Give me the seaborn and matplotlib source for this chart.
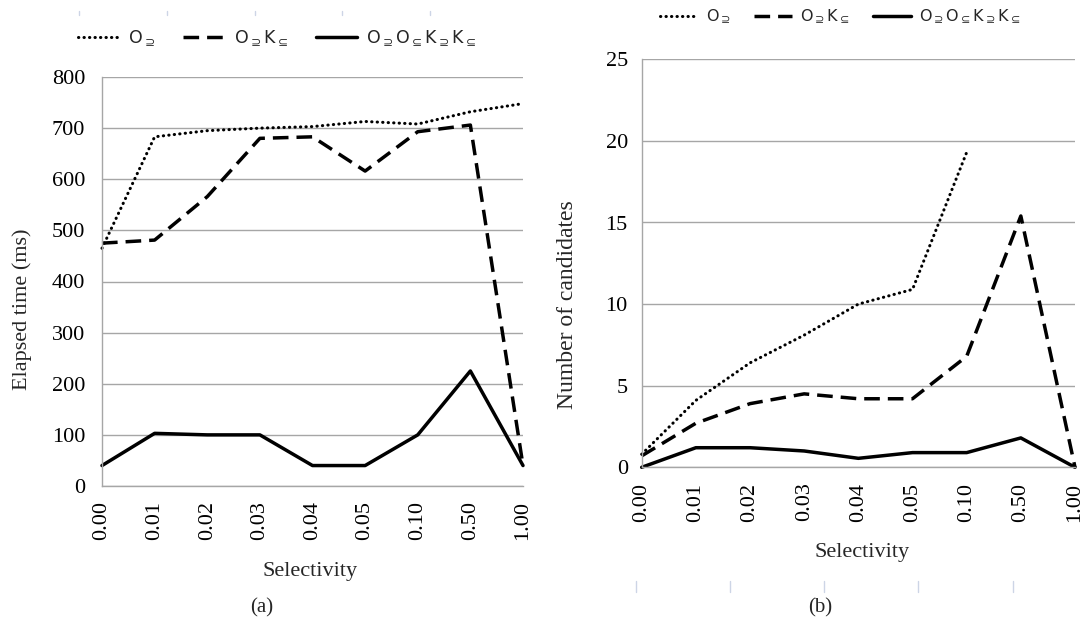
import numpy as np
import matplotlib
matplotlib.use("Agg")
import matplotlib.pyplot as plt
import seaborn as sns
from matplotlib.lines import Line2D

# data
selectivity = ["0.00", "0.01", "0.02", "0.03", "0.04", "0.05", "0.10", "0.50", "1.00"]
series_names = [r"$\mathrm{O}_{\supseteq}$",
                r"$\mathrm{O}_{\supseteq}\mathrm{K}_{\subseteq}$",
                r"$\mathrm{O}_{\supseteq}\mathrm{O}_{\subseteq}\mathrm{K}_{\supseteq}\mathrm{K}_{\subseteq}$"]

time_o = [465, 683, 695, 700, 703, 713, 708, 732, 748]
time_ok = [475, 481, 566, 680, 683, 616, 693, 706, 40]
time_ookk = [40, 103, 100, 100, 40, 40, 100, 225, 40]

cand_o = [0.8, 4.1, 6.4, 8.1, 10.0, 10.9, 19.3, np.nan, np.nan]
cand_ok = [0.7, 2.7, 3.9, 4.5, 4.2, 4.2, 6.8, 15.4, 0]
cand_ookk = [0, 1.2, 1.2, 1.0, 0.55, 0.9, 0.9, 1.8, 0]

sns.set_style("white")
plt.rcParams['font.family'] = ['Liberation Serif', 'DejaVu Serif']
plt.rcParams['mathtext.fontset'] = 'dejavusans'

W, H = 1089, 628
fig = plt.figure(figsize=(W / 100, H / 100), dpi=100)
ax1 = fig.add_axes([102 / W, 1 - 486 / H, 421 / W, 409 / H])
ax2 = fig.add_axes([641.7 / W, 1 - 467.3 / H, 433.3 / W, 408 / H])

grey = '#a6a6a6'
line_styles = [
    dict(linestyle=(0, (0.1, 1.7)), dash_capstyle='round', lw=2.2),
    dict(linestyle=(0, (4.5, 2.3)), lw=2.5),
    dict(linestyle='-', lw=2.5),
]
pos = np.arange(len(selectivity))


def draw(ax, values, ymax, ystep, ylabel, ylsize, ypad, ylab_xy, xlab_xy,
         leg_xy, leg_size, colspace):
    for vals, name, st in zip(values, series_names, line_styles):
        sns.lineplot(x=pos, y=vals, ax=ax, color='black', label=name,
                     clip_on=False, **st)
    ax.set_xlim(0, len(selectivity) - 1)
    ax.set_ylim(0, ymax)
    ax.set_yticks(np.arange(0, ymax + 1, ystep))
    ax.set_xticks(pos)
    ax.set_xticklabels(selectivity, rotation=90)
    ax.grid(axis='y', color=grey, lw=1)
    ax.set_axisbelow(True)
    for s in ['top', 'right']:
        ax.spines[s].set_visible(False)
    for s in ['left', 'bottom']:
        ax.spines[s].set_color(grey)
        ax.spines[s].set_linewidth(1)
    ax.tick_params(axis='both', colors=grey, labelcolor='black', length=4,
                   width=1, labelsize=16)
    ax.tick_params(axis='y', pad=ypad)
    ax.tick_params(axis='x', pad=7)
    ax.set_ylabel(ylabel, fontsize=ylsize)
    ax.yaxis.set_label_coords(*ylab_xy)
    ax.set_xlabel("Selectivity", fontsize=16)
    ax.xaxis.set_label_coords(*xlab_xy)
    ax.legend(loc='center left', bbox_to_anchor=leg_xy, bbox_transform=fig.transFigure,
              ncol=3, frameon=False, prop={'size': leg_size},
              handlelength=2.4, handletextpad=0.5, columnspacing=colspace,
              borderpad=0, borderaxespad=0)


draw(ax1, [time_o, time_ok, time_ookk], 800, 100, "Elapsed time (ms)", 16, 8,
     (-0.166, 0.433), (0.494, -0.186), (78 / W, 1 - 38 / H), 12.5, 1.6)
draw(ax2, [cand_o, cand_ok, cand_ookk], 25, 5, "Number of candidates", 17, 6,
     (-0.147, 0.398), (0.508, -0.1855), (660 / W, 1 - 17 / H), 11.5, 1.4)

fig.text(262 / W, 1 - 608 / H, "(a)", ha='center', va='center', fontsize=15)
fig.text(820 / W, 1 - 608 / H, "(b)", ha='center', va='center', fontsize=15)

# faint leftover marks of the page
for x in [79, 167, 255, 342, 430]:
    fig.add_artist(Line2D([x / W, x / W], [1 - 11 / H, 1 - 15 / H], color='#cdd5e6', lw=1))
for x in [636, 730, 824, 918, 1013]:
    fig.add_artist(Line2D([x / W, x / W], [1 - 581 / H, 1 - 592 / H], color='#cdd5e6', lw=1))

fig.savefig("out.png", dpi=100)
